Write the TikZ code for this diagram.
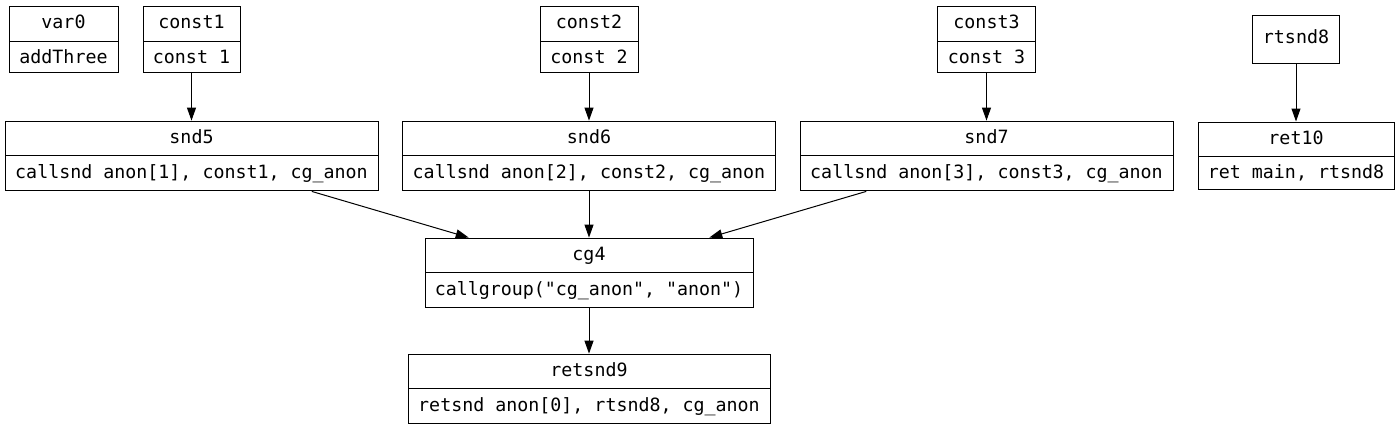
\documentclass[tikz,border=0pt]{standalone}
\usepackage{fontspec}
\newfontfamily\dmono{DejaVu Sans Mono}
\usetikzlibrary{shapes.multipart,arrows.meta}
\begin{document}
\begin{tikzpicture}[x=1pt,y=-1pt,
  rec/.style={draw, line width=1pt, rectangle split, rectangle split parts=2,
    font=\dmono\fontsize{18.3}{22}\selectfont, text height=13.5pt, text depth=4pt,
    inner ysep=8pt, inner xsep=0pt},
  single/.style={draw, line width=1pt, font=\dmono\fontsize{18.3}{22}\selectfont,
    text height=13.5pt, text depth=4pt, inner sep=0pt, minimum height=48pt},
  edge/.style={line width=1pt, -{Triangle[length=13pt,width=9pt]}}]
\useasboundingbox (0,0) rectangle (1400,429);
\node[rec, minimum width=109pt] (var0) at (63.5,39.5) {var0\nodepart{two}addThree};
\node[rec, minimum width=97pt] (const1) at (191.5,39.5) {const1\nodepart{two}const 1};
\node[rec, minimum width=98pt] (const2) at (589,39.5) {const2\nodepart{two}const 2};
\node[rec, minimum width=98pt] (const3) at (986.5,39.5) {const3\nodepart{two}const 3};
\node[single, minimum width=87pt] (rtsnd8) at (1296,39) {rtsnd8};
\node[rec, minimum width=373pt] (snd5) at (191.5,156) {snd5\nodepart{two}callsnd anon[1], const1, cg\_anon};
\node[rec, minimum width=373pt] (snd6) at (589,156) {snd6\nodepart{two}callsnd anon[2], const2, cg\_anon};
\node[rec, minimum width=373pt] (snd7) at (986.5,156) {snd7\nodepart{two}callsnd anon[3], const3, cg\_anon};
\node[rec, minimum width=196pt] (ret10) at (1296,156) {ret10\nodepart{two}ret main, rtsnd8};
\node[rec, minimum width=328pt] (cg4) at (589,273) {cg4\nodepart{two}callgroup("cg\_anon", "anon")};
\node[rec, minimum width=362pt] (retsnd9) at (589,389) {retsnd9\nodepart{two}retsnd anon[0], rtsnd8, cg\_anon};
\draw[edge] (const1) -- (snd5);
\draw[edge] (const2) -- (snd6);
\draw[edge] (const3) -- (snd7);
\draw[edge] (rtsnd8) -- (ret10);
\draw[edge] (snd5) -- (cg4);
\draw[edge] (snd6) -- (cg4);
\draw[edge] (snd7) -- (cg4);
\draw[edge] (cg4) -- (retsnd9);
\end{tikzpicture}
\end{document}
